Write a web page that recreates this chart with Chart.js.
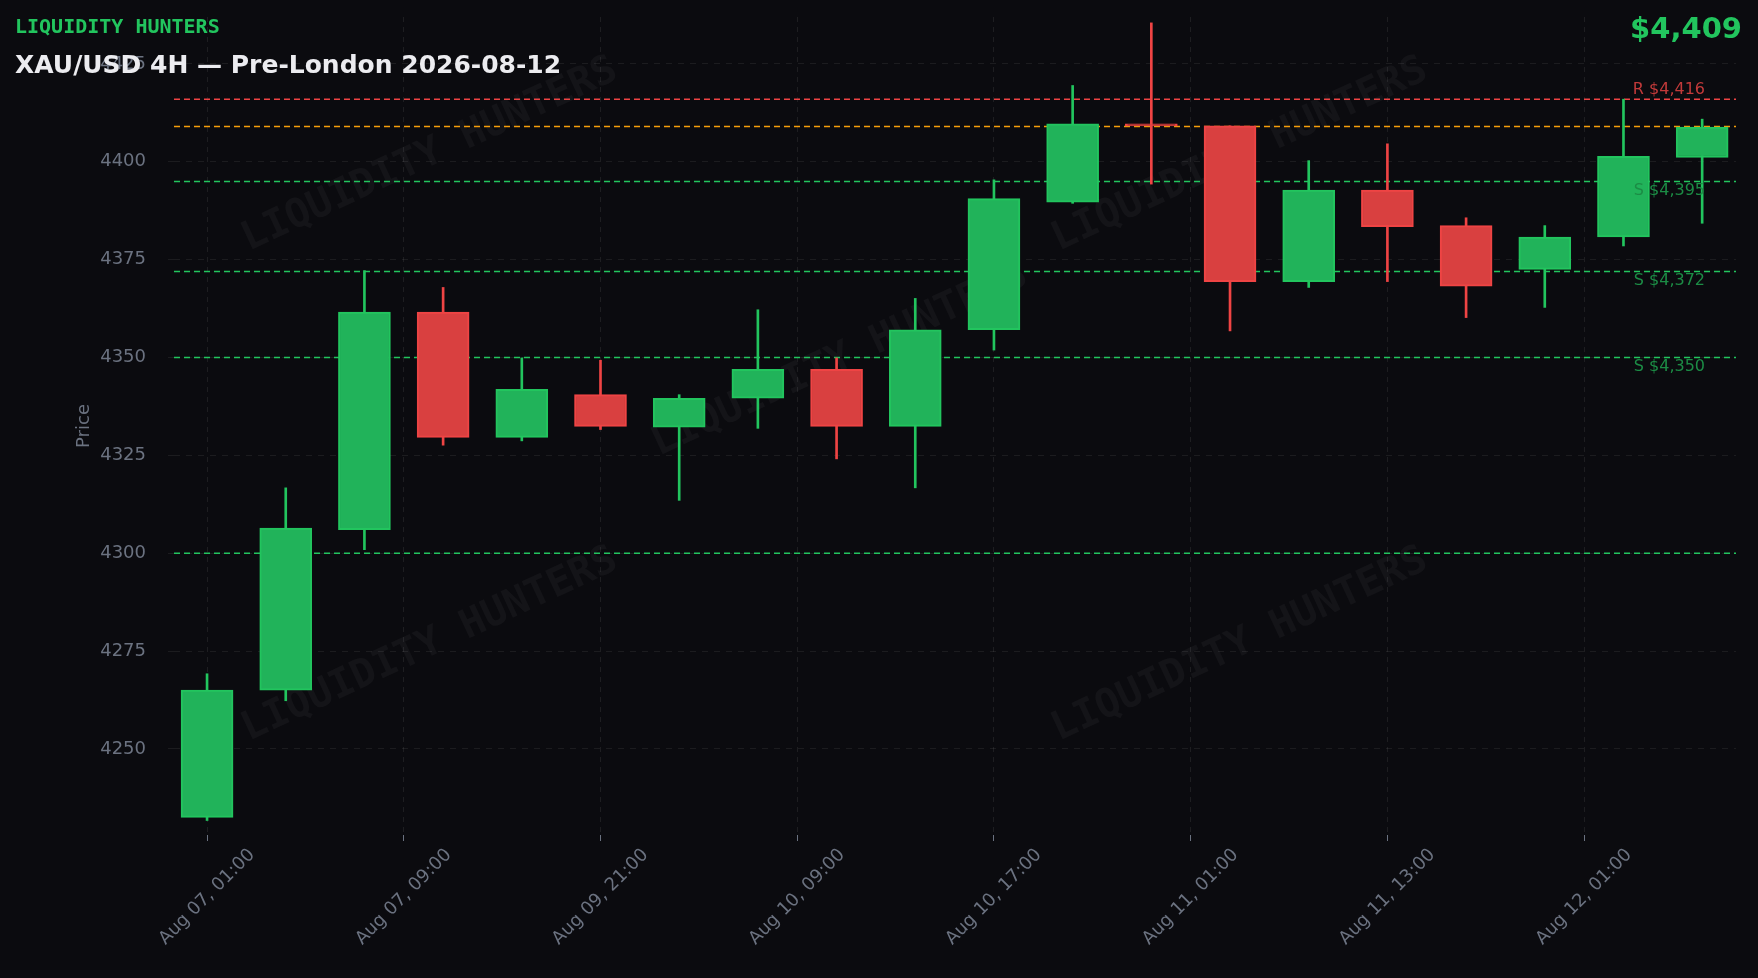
<!DOCTYPE html>
<html><head><meta charset="utf-8">
<script src="https://cdn.jsdelivr.net/npm/chart.js@4.4.1/dist/chart.umd.min.js"></script>
<style>html,body{margin:0;padding:0;background:#0b0b0f;}#wrap{position:relative;width:1758px;height:978px;}</style>
</head><body><div id="wrap"><canvas id="c" width="1758" height="978"></canvas></div>
<script>
const opens  = [4232.5,4265,4306,4361.6,4329.6,4340.5,4332.2,4339.6,4347,4332.4,4357.1,4389.7,4409.7,4409.2,4369.4,4392.8,4383.7,4372.5,4380.8,4401.1];
const closes = [4265,4306.4,4361.6,4329.6,4341.9,4332.4,4339.6,4347,4332.4,4357.1,4390.6,4409.7,4409.2,4369.4,4392.8,4383.4,4368.2,4380.8,4401.4,4408.9];
const highs  = [4269.2,4316.7,4372.2,4367.9,4349.9,4349.3,4340.5,4362.2,4349.9,4365.1,4395.4,4419.5,4435.5,4409.2,4400.3,4404.6,4385.7,4383.7,4416,4410.9];
const lows   = [4231.7,4262.3,4300.9,4327.6,4328.7,4331.6,4313.5,4331.9,4324.1,4316.7,4351.9,4389.4,4394.3,4356.8,4367.9,4369.4,4360.2,4362.8,4378.5,4384.3];
const tickLabels = ["Aug 07, 01:00","Aug 07, 09:00","Aug 09, 21:00","Aug 10, 09:00","Aug 10, 17:00","Aug 11, 01:00","Aug 11, 13:00","Aug 12, 01:00"];
const tickPositions = [0,2.5,5,7.5,10,12.5,15,17.5];
const resistance = [4416];
const supports = [4395,4372,4350];
const extraSupport = [4300];
const lastPrice = 4409;

const GREEN='#22c55e', GREENF='#21b35a', RED='#ef4444', REDF='#d94040';
const up = closes.map((c,i)=>c>=opens[i]);
const bodies = opens.map((o,i)=>({x:i,y:[o,closes[i]]}));
const wicks = highs.map((h,i)=>({x:i,y:[lows[i],h]}));

const overlay = {
  id:'overlay',
  beforeDatasetsDraw(ch){
    const {ctx,chartArea:a} = ch;
    ctx.save();
    ctx.font='bold 40px "DejaVu Sans Mono"';
    ctx.fillStyle='rgba(255,255,255,0.04)';
    ctx.textAlign='center';ctx.textBaseline='middle';
    [[430,155],[1240,155],[840,360],[430,645],[1240,645]].forEach(([x,y])=>{
      ctx.save();ctx.translate(x,y);ctx.rotate(-25*Math.PI/180);ctx.fillText('LIQUIDITY HUNTERS',0,0);ctx.restore();
    });
    const ys = ch.scales.y;
    const line=(v,col)=>{const y=ys.getPixelForValue(v);ctx.strokeStyle=col;ctx.lineWidth=1.5;ctx.setLineDash([6,4]);ctx.beginPath();ctx.moveTo(a.left,y);ctx.lineTo(a.right,y);ctx.stroke();};
    resistance.forEach(v=>line(v,'#ef4444'));
    line(lastPrice,'#f59e0b');
    supports.forEach(v=>line(v,'#22c55e'));
    extraSupport.forEach(v=>line(v,'#22c55e'));
    ctx.restore();
  },
  afterDatasetsDraw(ch){
    const ctx=ch.ctx, ys=ch.scales.y;ctx.save();
    ctx.font='16px "DejaVu Sans"';ctx.textAlign='right';
    resistance.forEach(v=>{const y=ys.getPixelForValue(v);ctx.fillStyle='#c23a3a';ctx.textBaseline='bottom';ctx.fillText('R $'+v.toLocaleString('en-US'),1705,y-1);});
    supports.forEach(v=>{const y=ys.getPixelForValue(v);ctx.fillStyle='#1c8c45';ctx.textBaseline='top';ctx.fillText('S $'+v.toLocaleString('en-US'),1705,y+1);});
    ctx.restore();
  },
  afterDraw(ch){
    const ctx=ch.ctx;ctx.save();
    const xs=ch.scales.x, a=ch.chartArea;
    ctx.fillStyle='#6b7280';ctx.font='18px "DejaVu Sans"';ctx.textAlign='center';ctx.textBaseline='middle';
    tickPositions.forEach((p,i)=>{ctx.save();ctx.translate(xs.getPixelForValue(p),a.bottom+62);ctx.rotate(-Math.PI/4);ctx.fillText(tickLabels[i],0,0);ctx.restore();});
    ctx.textBaseline='alphabetic';ctx.textAlign='left';
    ctx.fillStyle='#22c55e';ctx.font='bold 20px "DejaVu Sans Mono"';ctx.fillText('LIQUIDITY HUNTERS',15,33);
    ctx.fillStyle='#ececf0';ctx.font='bold 25px "DejaVu Sans"';ctx.fillText('XAU/USD 4H — Pre-London 2026-08-12',15,73);
    ctx.textAlign='right';ctx.fillStyle='#22c55e';ctx.font='bold 29px "DejaVu Sans"';ctx.fillText('$'+lastPrice.toLocaleString('en-US'),1742,38);
    ctx.restore();
  }
};

new Chart(document.getElementById('c'),{
  type:'bar',
  data:{datasets:[
    {data:wicks,backgroundColor:up.map(u=>u?GREEN:RED),barThickness:2,grouped:false,order:2},
    {data:bodies,backgroundColor:up.map(u=>u?GREENF:REDF),borderColor:up.map(u=>u?GREEN:RED),borderWidth:2,borderSkipped:false,barThickness:52,grouped:false,order:1}
  ]},
  options:{
    responsive:false,animation:false,
    layout:{padding:{top:17,right:22,left:70,bottom:8}},
    plugins:{legend:{display:false},tooltip:{enabled:false}},
    scales:{
      x:{type:'linear',offset:false,min:-0.42,max:19.43,
        afterBuildTicks(s){s.ticks=tickPositions.map(v=>({value:v}));},
        afterFit(s){s.height=135;s.paddingLeft=0;s.paddingRight=0;},
        ticks:{color:'rgba(0,0,0,0)',font:{size:18,family:'DejaVu Sans'},maxRotation:45,minRotation:45,autoSkip:false,
          callback:(v)=>{const i=tickPositions.indexOf(v);return i>=0?tickLabels[i]:'';}},
        grid:{color:'rgba(255,255,255,0.08)',tickColor:'#6b7280',tickLength:6,offset:false},border:{display:false,dash:[5,5]}},
      y:{min:4228,max:4437,
        afterBuildTicks(s){const t=[];for(let v=4250;v<=4425;v+=25)t.push({value:v});s.ticks=t;},
        afterFit(s){s.width=104;s.paddingTop=0;s.paddingBottom=0;},
        ticks:{color:'#6b7280',font:{size:18,family:'DejaVu Sans'},padding:22,callback:(v)=>String(v)},
        title:{display:true,text:'Price',color:'#6b7280',font:{size:18,family:'DejaVu Sans'}},
        grid:{color:'rgba(255,255,255,0.07)',tickLength:6},border:{display:false,dash:[6,6]}}
    }
  },
  plugins:[overlay]
});
</script></body></html>
